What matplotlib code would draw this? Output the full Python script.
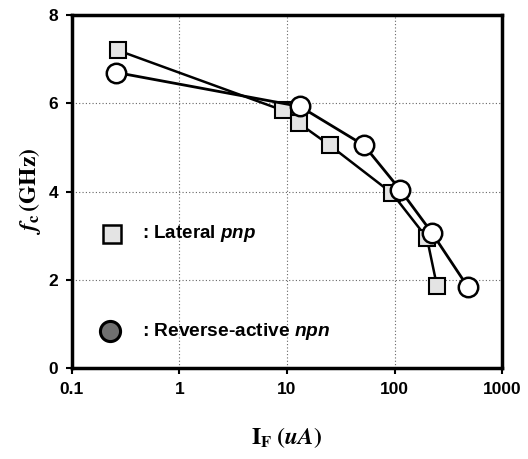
import matplotlib
matplotlib.use("Agg")
import matplotlib.pyplot as plt

plt.rcParams["mathtext.fontset"] = "custom"
plt.rcParams["mathtext.rm"] = "Liberation Sans:bold"
plt.rcParams["mathtext.it"] = "Liberation Sans:bold:italic"
plt.rcParams["mathtext.bf"] = "Liberation Sans:bold"

pnp_x = [0.27, 9.2, 12.9, 25, 95, 200, 248]
pnp_y = [7.2, 5.84, 5.55, 5.05, 3.96, 2.95, 1.86]
npn_x = [0.26, 13.2, 52, 113, 222, 480]
npn_y = [6.7, 5.93, 5.05, 4.04, 3.07, 1.84]
xticks = [0.1, 1, 10, 100, 1000]
xticklabels = ["0.1", "1", "10", "100", "1000"]
yticks = [0, 2, 4, 6, 8]

fig = plt.figure(figsize=(5.28, 4.59), dpi=100)
ax = fig.add_axes([0.136, 0.198, 0.815, 0.769])
ax.set_xscale("log")
ax.set_xlim(0.1, 1000)
ax.set_ylim(0, 8)

ax.plot(pnp_x, pnp_y, color="black", lw=1.8, marker="s", ms=11,
        mfc="#e4e4e4", mec="black", mew=1.5, zorder=3)
ax.plot(npn_x, npn_y, color="black", lw=2.0, marker="o", ms=14,
        mfc="white", mec="black", mew=1.8, zorder=4)

ax.grid(True, which="major", color="#666666", ls=(0, (1, 2)), lw=0.8)
ax.minorticks_off()
ax.set_xticks(xticks)
ax.set_xticklabels(xticklabels)
ax.set_yticks(yticks)
for lab in ax.get_xticklabels() + ax.get_yticklabels():
    lab.set_fontfamily("Liberation Sans")
    lab.set_fontweight("bold")
    lab.set_fontsize(12.5)
ax.tick_params(direction="out", length=4, width=1.5, pad=6)
for s in ax.spines.values():
    s.set_linewidth(2.5)

# legend-like annotations
ax.plot([0.093], [0.38], transform=ax.transAxes, marker="s", ms=13.5,
        mfc="#e4e4e4", mec="black", mew=1.8, ls="none", clip_on=False)
ax.text(0.162, 0.38, r": Lateral $\mathit{pnp}$", transform=ax.transAxes, va="center",
        fontfamily="Liberation Sans", fontweight="bold", fontsize=13.5,
        math_fontfamily="custom")
ax.plot([0.088], [0.105], transform=ax.transAxes, marker="o", ms=14.5,
        mfc="#707070", mec="black", mew=2.2, ls="none", clip_on=False)
ax.text(0.162, 0.105, r": Reverse-active $\mathit{npn}$", transform=ax.transAxes,
        va="center", fontfamily="Liberation Sans", fontweight="bold", fontsize=13.8,
        math_fontfamily="custom")

ax.set_ylabel(r"$\mathbfit{f}_{\mathbf{c}}\,\mathbf{(GHz)}$", fontsize=17,
              labelpad=4, math_fontfamily="stix")
ax.set_xlabel(r"$\mathbf{I}_{\mathbf{F}}\;\mathbf{(}\mathbfit{uA}\mathbf{)}$",
              fontsize=17, labelpad=20, math_fontfamily="stix")

fig.savefig("out.png", dpi=100)
